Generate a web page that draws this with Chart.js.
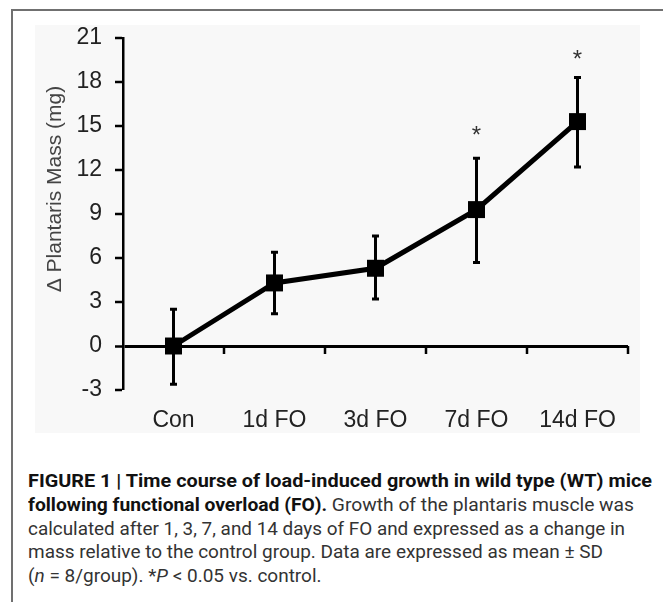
<!DOCTYPE html>
<html>
<head>
<meta charset="utf-8">
<script src="https://cdn.jsdelivr.net/npm/chart.js@4.4.1/dist/chart.umd.min.js"></script>
<style>
  html, body { margin: 0; padding: 0; background: #fff; }
  body { width: 663px; height: 602px; position: relative; overflow: hidden; font-family: Roboto, "Liberation Sans", Arial, sans-serif; }
  #frameTop { position: absolute; left: 11px; top: 9px; width: 652px; height: 2px; background: #707070; }
  #frameLeft { position: absolute; left: 11px; top: 9px; width: 2px; height: 593px; background: #707070; }
  #panel { position: absolute; left: 35px; top: 25px; width: 605px; height: 408px; background: #f8f8f8; }
  #chartBox { position: absolute; left: 0; top: 0; width: 663px; height: 445px; }
  #caption { position: absolute; left: 28px; top: 469px; color: #333; font-size: 18px; line-height: 23.8px; }
  #caption div { white-space: nowrap; transform-origin: 0 50%; display: inline-block; }
  #caption b { color: #111; }
</style>
</head>
<body>
<div id="panel"></div>
<div id="frameTop"></div>
<div id="frameLeft"></div>
<div id="chartBox"><canvas id="myChart"></canvas></div>
<div id="caption">
  <div><b>FIGURE 1 | Time course of load-induced growth in wild type (WT) mice</b></div><br>
  <div><b>following functional overload (FO).</b> Growth of the plantaris muscle was</div><br>
  <div>calculated after 1, 3, 7, and 14 days of FO and expressed as a change in</div><br>
  <div>mass relative to the control group. Data are expressed as mean ± SD</div><br>
  <div>(<i>n</i> = 8/group). *<i>P</i> &lt; 0.05 vs. control.</div>
</div>
<script>
'use strict'

const categories = ['Con', '1d FO', '3d FO', '7d FO', '14d FO'];
const meanMass = [0, 4.3, 5.3, 9.3, 15.3];
const upperMass = [2.5, 6.4, 7.5, 12.8, 18.3];
const lowerMass = [-2.6, 2.2, 3.2, 5.7, 12.2];
const starLevel = [null, null, null, 14.8, 20.0];
const yMin = -3;
const yMax = 21;
const yStep = 3;
const yTitle = '\u0394 Plantaris Mass (mg)';

const axisFont = '"Liberation Sans", Arial, sans-serif';

// error bars, drawn under the line and markers
const errorBars = {
  id: 'errorBars',
  beforeDatasetsDraw(chart) {
    const x = chart.scales.x;
    const y = chart.scales.y;
    const ctx = chart.ctx;
    ctx.save();
    ctx.strokeStyle = '#000';
    ctx.lineWidth = 3;
    for (let i = 0; i < categories.length; i++) {
      const px = x.getPixelForValue(i);
      const top = y.getPixelForValue(upperMass[i]);
      const bot = y.getPixelForValue(lowerMass[i]);
      ctx.beginPath();
      ctx.moveTo(px, top);
      ctx.lineTo(px, bot);
      ctx.moveTo(px - 3.5, top);
      ctx.lineTo(px + 3.5, top);
      ctx.moveTo(px - 3.5, bot);
      ctx.lineTo(px + 3.5, bot);
      ctx.stroke();
    }
    // short ticks hanging from the zero line, between categories
    const y0 = y.getPixelForValue(0);
    ctx.lineWidth = 2.5;
    ctx.beginPath();
    for (let i = 0; i < categories.length; i++) {
      let edge = x.right;
      if (i < categories.length - 1) {
        edge = (x.getPixelForValue(i) + x.getPixelForValue(i + 1)) / 2;
      }
      ctx.moveTo(edge, y0);
      ctx.lineTo(edge, y0 + 8);
    }
    ctx.stroke();
    ctx.restore();
  }
};

// significance stars and the rotated y title
const extras = {
  id: 'extras',
  afterDraw(chart) {
    const x = chart.scales.x;
    const y = chart.scales.y;
    const ctx = chart.ctx;
    ctx.save();
    ctx.fillStyle = '#333';
    ctx.font = '24px ' + axisFont;
    ctx.textAlign = 'center';
    ctx.textBaseline = 'alphabetic';
    for (let i = 0; i < starLevel.length; i++) {
      if (starLevel[i] === null) continue;
      ctx.fillText('*', x.getPixelForValue(i), y.getPixelForValue(starLevel[i]) + 14);
    }
    ctx.translate(y.left + 16, (chart.chartArea.top + chart.chartArea.bottom) / 2 - 25);
    ctx.rotate(-Math.PI / 2);
    ctx.fillStyle = '#444';
    ctx.font = '21px ' + axisFont;
    ctx.textBaseline = 'middle';
    ctx.fillText(yTitle, 0, 0);
    ctx.restore();
  }
};

const data = {
  labels: categories,
  datasets: [{
    label: 'Plantaris mass',
    data: meanMass,
    borderColor: '#000',
    borderWidth: 5,
    backgroundColor: '#000',
    pointStyle: 'rect',
    pointRadius: 12,
    pointBorderWidth: 0,
    pointBackgroundColor: '#000',
    tension: 0,
    clip: false
  }]
};

const config = {
  type: 'line',
  data: data,
  options: {
    responsive: true,
    maintainAspectRatio: false,
    animation: false,
    layout: { padding: { left: 39, right: 35, top: 38, bottom: 0 } },
    plugins: { legend: { display: false }, tooltip: { enabled: false } },
    scales: {
      x: {
        offset: true,
        grid: { display: false, drawTicks: false },
        border: { display: false },
        ticks: { color: '#222', font: { size: 23, family: axisFont }, padding: 17, maxRotation: 0 },
        afterFit(scale) { scale.height = 55; }
      },
      y: {
        min: yMin,
        max: yMax,
        ticks: { stepSize: yStep, color: '#222', font: { size: 23, family: axisFont }, padding: 13 },
        grid: {
          drawOnChartArea: true,
          color: (c) => (c.tick && c.tick.value === 0 ? '#000' : 'rgba(0,0,0,0)'),
          lineWidth: (c) => (c.tick && c.tick.value === 0 ? 3 : 0),
          tickColor: '#000',
          tickWidth: 2.5,
          tickLength: 8
        },
        border: { display: true, color: '#000', width: 2.5 },
        afterFit(scale) { scale.width = 84; }
      }
    }
  },
  plugins: [errorBars, extras]
};

let myChart = new Chart(document.getElementById('myChart'), config);

// fit caption lines to the widths in the figure
const lineWidths = [624, 606, 597, 575, null];
const lines = document.querySelectorAll('#caption div');
let lastFactor = 1;
lines.forEach((el, i) => {
  const w = el.getBoundingClientRect().width;
  let f = lastFactor;
  if (lineWidths[i]) f = lineWidths[i] / w;
  el.style.transform = 'scaleX(' + f + ')';
  lastFactor = f;
});
</script>
</body>
</html>
